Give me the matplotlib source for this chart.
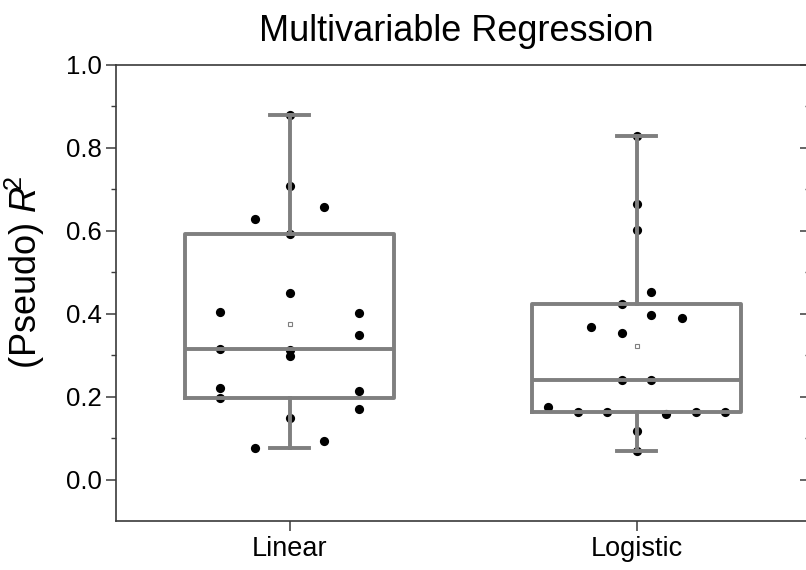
import numpy as np
import matplotlib
matplotlib.use("Agg")
import matplotlib.pyplot as plt
from matplotlib.lines import TICKLEFT

plt.rcParams['font.family'] = ['Liberation Sans', 'DejaVu Sans']
plt.rcParams['mathtext.fontset'] = 'custom'
plt.rcParams['mathtext.rm'] = 'Liberation Sans'
plt.rcParams['mathtext.it'] = 'Liberation Sans:italic'

# data
categories = ["Linear", "Logistic"]
linear_r2 = [0.880, 0.708, 0.657, 0.629, 0.592, 0.451, 0.404, 0.402, 0.349, 0.315,
             0.313, 0.297, 0.221, 0.197, 0.213, 0.169, 0.149, 0.094, 0.075]
linear_jitter = [0, 0, 0.1, -0.1, 0, 0, -0.2, 0.2, 0.2, -0.2,
                 0, 0, -0.2, -0.2, 0.2, 0.2, 0, 0.1, -0.1]
logistic_r2 = [0.829, 0.664, 0.601, 0.452, 0.424, 0.396, 0.389, 0.369, 0.353, 0.241,
               0.241, 0.174, 0.162, 0.162, 0.158, 0.162, 0.162, 0.118, 0.070]
logistic_jitter = [0, 0, 0, 0.043, -0.043, 0.043, 0.13, -0.13, -0.043, -0.043,
                   0.043, -0.256, -0.17, -0.086, 0.086, 0.17, 0.256, 0, 0]

groups = [linear_r2, logistic_r2]
jitters = [linear_jitter, logistic_jitter]
positions = [1, 2]

box_gray = "#7f7f7f"
axis_col = "#3a3a3a"

fig = plt.figure(figsize=(8.06, 5.70), dpi=100)
ax = fig.add_axes([0.144, 0.086, 0.861, 0.800])

# points (drawn under the box lines)
for pos, vals, jit in zip(positions, groups, jitters):
    ax.scatter(pos + np.array(jit), vals, s=44, color="black", zorder=2, linewidths=0)

# box statistics: quartiles with (n+1)p rule, whiskers at min/max
stats = []
for lab, vals in zip(categories, groups):
    v = np.array(vals)
    q1, med, q3 = np.percentile(v, [25, 50, 75], method="weibull")
    stats.append(dict(label=lab, q1=q1, med=med, q3=q3, mean=v.mean(),
                      whislo=v.min(), whishi=v.max(), fliers=[]))

line = dict(color=box_gray, linewidth=2.8)
ax.bxp(stats, positions=positions, widths=0.6, showmeans=True, showfliers=False,
       boxprops=line, whiskerprops=line, capprops=line, medianprops=line,
       capwidths=0.11,
       meanprops=dict(marker="s", markersize=3.5, markerfacecolor="white",
                      markeredgecolor=box_gray, markeredgewidth=0.8),
       zorder=3)

ax.set_xlim(0.5, 2.5)
ax.set_ylim(-0.1, 1.0)
ax.set_xticks(positions)
ax.set_xticklabels(categories)
ax.set_yticks([0.0, 0.2, 0.4, 0.6, 0.8, 1.0])
ax.set_yticks([0.1, 0.3, 0.5, 0.7, 0.9], minor=True)

for sp in ax.spines.values():
    sp.set_color(axis_col)
    sp.set_linewidth(1.2)

ax.tick_params(axis="y", which="major", direction="out", length=7, width=1.1,
               labelsize=18.5, color=axis_col, right=True, pad=3.5)
ax.tick_params(axis="y", which="minor", direction="out", length=3.5, width=1.0,
               color=axis_col, right=True)
ax.tick_params(axis="x", which="major", direction="out", length=7, width=1.1,
               labelsize=19.5, color=axis_col, pad=4)
ax.tick_params(axis="x", which="minor", bottom=False, top=False)
# ticks on the right side point inward
for t in ax.yaxis.get_major_ticks() + ax.yaxis.get_minor_ticks():
    t.tick2line.set_marker(TICKLEFT)

ax.set_ylabel(r"(Pseudo) $R\!^{2}$", fontsize=26)
ax.yaxis.set_label_coords(-0.100, 0.545)
ax.set_title("Multivariable Regression", fontsize=26, pad=17, x=0.49)

fig.savefig("out.png", dpi=100)
